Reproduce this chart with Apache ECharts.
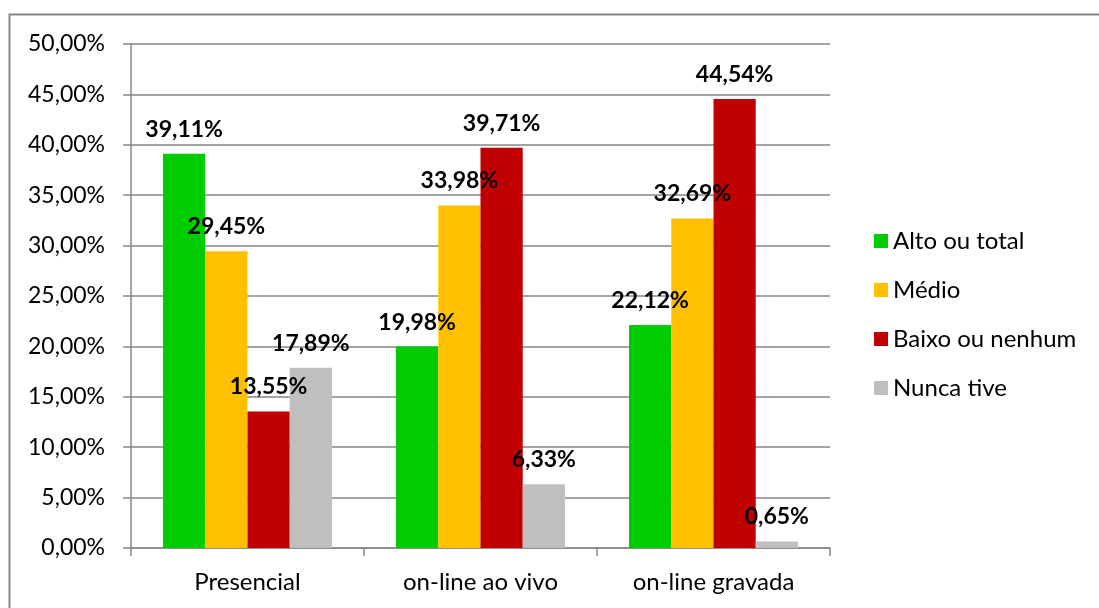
<!DOCTYPE html>
<html>
<head>
<meta charset="utf-8">
<script src="https://cdn.jsdelivr.net/npm/echarts@6/dist/echarts.min.js"></script>
<style>
  html, body { margin: 0; padding: 0; background: #fff; }
  #chart { width: 1099px; height: 608px; }
</style>
</head>
<body>
<div id="chart"></div>
<script>
  var categories = ['Presencial', 'on-line ao vivo', 'on-line gravada'];
  var seriesNames = ['Alto ou total', 'Médio', 'Baixo ou nenhum', 'Nunca tive'];
  var altoTotal = [39.11, 19.98, 22.12];
  var medio = [29.45, 33.98, 32.69];
  var baixoNenhum = [13.55, 39.71, 44.54];
  var nuncaTive = [17.89, 6.33, 0.65];
  var colors = ['#00CC00', '#FFC000', '#C00000', '#BFBFBF'];

  var fontFam = 'Lato, "Open Sans", sans-serif';
  function pct(v) {
    return v.toFixed(2).replace('.', ',') + '%';
  }

  var chart = echarts.init(document.getElementById('chart'));
  var values = [altoTotal, medio, baixoNenhum, nuncaTive];
  var series = [];
  for (var i = 0; i < seriesNames.length; i++) {
    series.push({
      name: seriesNames[i],
      type: 'bar',
      data: values[i],
      barGap: '0%',
      barCategoryGap: '27.5%',
      itemStyle: { color: colors[i] },
      label: {
        show: true,
        position: 'top',
        distance: 13,
        color: '#000',
        fontWeight: 'bold',
        fontSize: 23,
        fontFamily: fontFam,
        formatter: function (p) { return pct(p.value); }
      }
    });
  }

  chart.setOption({
    animation: false,
    color: colors,
    graphic: [{
      type: 'rect',
      shape: { x: 9.5, y: 14.5, width: 1100, height: 620 },
      style: { fill: 'none', stroke: '#868686', lineWidth: 2 },
      silent: true
    }],
    grid: { left: 131, top: 44, width: 699, height: 504, containLabel: false },
    legend: {
      orient: 'vertical',
      left: 869,
      top: 224,
      itemWidth: 14,
      itemHeight: 14,
      itemGap: 25,
      icon: 'rect',
      textStyle: { fontSize: 24, fontFamily: fontFam, color: '#000' },
      data: seriesNames
    },
    xAxis: {
      type: 'category',
      data: categories,
      axisLine: { lineStyle: { color: '#868686', width: 1.5 } },
      axisTick: { show: true, length: 8, lineStyle: { color: '#868686', width: 1.5 } },
      axisLabel: { fontSize: 24, fontFamily: fontFam, color: '#000', margin: 22 }
    },
    yAxis: {
      type: 'value',
      min: 0,
      max: 50,
      interval: 5,
      axisLine: { show: true, lineStyle: { color: '#868686', width: 1.5 } },
      axisTick: { show: true, length: 8, lineStyle: { color: '#868686', width: 1.5 } },
      splitLine: { lineStyle: { color: '#868686', width: 1.5 } },
      axisLabel: {
        fontSize: 23,
        fontFamily: fontFam,
        color: '#000',
        margin: 26,
        formatter: function (v) { return pct(v); }
      }
    },
    series: series
  });
</script>
</body>
</html>
